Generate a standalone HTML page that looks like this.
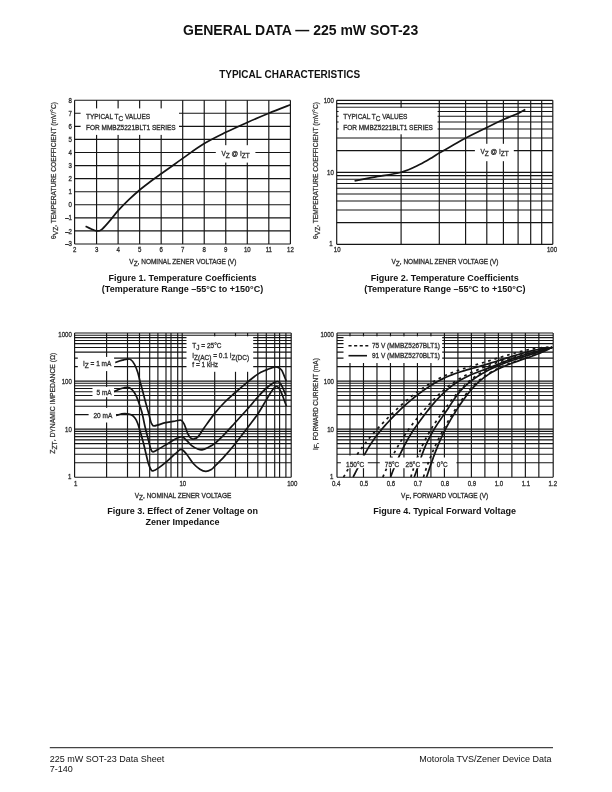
<!DOCTYPE html>
<html lang="en"><head><meta charset="utf-8"><title>GENERAL DATA — 225 mW SOT-23</title>
<style>
html,body{margin:0;padding:0;background:#fff}
body{width:612px;height:792px;overflow:hidden}
svg{display:block;font-family:"Liberation Sans",sans-serif}
svg path{fill:none;stroke:#141414}
</style></head><body>
<svg width="612" height="792" viewBox="0 0 612 792">
<text transform="translate(300.6 35)" font-size="14" text-anchor="middle" font-weight="bold" fill="#111">GENERAL DATA — 225 mW SOT-23</text>
<text transform="translate(289.6 78.2)" font-size="10" text-anchor="middle" font-weight="bold" fill="#111">TYPICAL CHARACTERISTICS</text>
<path d="M49.8 747.6H553" stroke-width="1.1" style="stroke:#444"/>
<text transform="translate(49.8 761.6)" font-size="9" fill="#111">225 mW SOT-23 Data Sheet</text>
<text transform="translate(49.8 772.4)" font-size="9" fill="#111">7-140</text>
<text transform="translate(551.6 761.6)" font-size="9" text-anchor="end" fill="#111">Motorola TVS/Zener Device Data</text>
<g>
<path d="M74.6 100.2V244" stroke-width="1.15"/>
<path d="M96.58 100.2V244" stroke-width="1.15"/>
<path d="M118.11 100.2V244" stroke-width="1.15"/>
<path d="M139.64 100.2V244" stroke-width="1.15"/>
<path d="M161.17 100.2V244" stroke-width="1.15"/>
<path d="M182.7 100.2V244" stroke-width="1.15"/>
<path d="M204.23 100.2V244" stroke-width="1.15"/>
<path d="M225.76 100.2V244" stroke-width="1.15"/>
<path d="M247.29 100.2V244" stroke-width="1.15"/>
<path d="M268.82 100.2V244" stroke-width="1.15"/>
<path d="M290.4 100.2V244" stroke-width="1.15"/>
<path d="M74.6 244H290.4" stroke-width="1.15"/>
<path d="M74.6 230.93H290.4" stroke-width="1.15"/>
<path d="M74.6 217.85H290.4" stroke-width="1.15"/>
<path d="M74.6 204.78H290.4" stroke-width="1.15"/>
<path d="M74.6 191.71H290.4" stroke-width="1.15"/>
<path d="M74.6 178.64H290.4" stroke-width="1.15"/>
<path d="M74.6 165.56H290.4" stroke-width="1.15"/>
<path d="M74.6 152.49H290.4" stroke-width="1.15"/>
<path d="M74.6 139.42H290.4" stroke-width="1.15"/>
<path d="M74.6 126.35H290.4" stroke-width="1.15"/>
<path d="M74.6 113.27H290.4" stroke-width="1.15"/>
<path d="M74.6 100.2H290.4" stroke-width="1.15"/>
<rect x="80.6" y="108.4" width="98.4" height="26.5" fill="#fff" stroke="none"/>
<rect x="215.8" y="145.2" width="39.6" height="17.4" fill="#fff" stroke="none"/>
<text transform="translate(71.9 245.7) scale(0.8 1)" font-size="7.6" text-anchor="end" fill="#303030" stroke="#303030" stroke-width="0.33">–3</text>
<text transform="translate(71.9 233.53) scale(0.8 1)" font-size="7.6" text-anchor="end" fill="#303030" stroke="#303030" stroke-width="0.33">–2</text>
<text transform="translate(71.9 220.45) scale(0.8 1)" font-size="7.6" text-anchor="end" fill="#303030" stroke="#303030" stroke-width="0.33">–1</text>
<text transform="translate(71.9 207.38) scale(0.8 1)" font-size="7.6" text-anchor="end" fill="#303030" stroke="#303030" stroke-width="0.33">0</text>
<text transform="translate(71.9 194.31) scale(0.8 1)" font-size="7.6" text-anchor="end" fill="#303030" stroke="#303030" stroke-width="0.33">1</text>
<text transform="translate(71.9 181.24) scale(0.8 1)" font-size="7.6" text-anchor="end" fill="#303030" stroke="#303030" stroke-width="0.33">2</text>
<text transform="translate(71.9 168.16) scale(0.8 1)" font-size="7.6" text-anchor="end" fill="#303030" stroke="#303030" stroke-width="0.33">3</text>
<text transform="translate(71.9 155.09) scale(0.8 1)" font-size="7.6" text-anchor="end" fill="#303030" stroke="#303030" stroke-width="0.33">4</text>
<text transform="translate(71.9 142.02) scale(0.8 1)" font-size="7.6" text-anchor="end" fill="#303030" stroke="#303030" stroke-width="0.33">5</text>
<text transform="translate(71.9 128.95) scale(0.8 1)" font-size="7.6" text-anchor="end" fill="#303030" stroke="#303030" stroke-width="0.33">6</text>
<text transform="translate(71.9 115.87) scale(0.8 1)" font-size="7.6" text-anchor="end" fill="#303030" stroke="#303030" stroke-width="0.33">7</text>
<text transform="translate(71.9 102.8) scale(0.8 1)" font-size="7.6" text-anchor="end" fill="#303030" stroke="#303030" stroke-width="0.33">8</text>
<text transform="translate(74.6 251.8) scale(0.8 1)" font-size="7.6" text-anchor="middle" fill="#303030" stroke="#303030" stroke-width="0.33">2</text>
<text transform="translate(96.58 251.8) scale(0.8 1)" font-size="7.6" text-anchor="middle" fill="#303030" stroke="#303030" stroke-width="0.33">3</text>
<text transform="translate(118.11 251.8) scale(0.8 1)" font-size="7.6" text-anchor="middle" fill="#303030" stroke="#303030" stroke-width="0.33">4</text>
<text transform="translate(139.64 251.8) scale(0.8 1)" font-size="7.6" text-anchor="middle" fill="#303030" stroke="#303030" stroke-width="0.33">5</text>
<text transform="translate(161.17 251.8) scale(0.8 1)" font-size="7.6" text-anchor="middle" fill="#303030" stroke="#303030" stroke-width="0.33">6</text>
<text transform="translate(182.7 251.8) scale(0.8 1)" font-size="7.6" text-anchor="middle" fill="#303030" stroke="#303030" stroke-width="0.33">7</text>
<text transform="translate(204.23 251.8) scale(0.8 1)" font-size="7.6" text-anchor="middle" fill="#303030" stroke="#303030" stroke-width="0.33">8</text>
<text transform="translate(225.76 251.8) scale(0.8 1)" font-size="7.6" text-anchor="middle" fill="#303030" stroke="#303030" stroke-width="0.33">9</text>
<text transform="translate(247.29 251.8) scale(0.8 1)" font-size="7.6" text-anchor="middle" fill="#303030" stroke="#303030" stroke-width="0.33">10</text>
<text transform="translate(268.82 251.8) scale(0.8 1)" font-size="7.6" text-anchor="middle" fill="#303030" stroke="#303030" stroke-width="0.33">11</text>
<text transform="translate(290.4 251.8) scale(0.8 1)" font-size="7.6" text-anchor="middle" fill="#303030" stroke="#303030" stroke-width="0.33">12</text>
<text transform="translate(86 118.9) scale(0.855 1)" font-size="7.6" fill="#303030" stroke="#303030" stroke-width="0.33">TYPICAL T<tspan dy="1.9">C</tspan><tspan dy="-1.9"> VALUES</tspan></text>
<text transform="translate(86 130) scale(0.855 1)" font-size="7.6" fill="#303030" stroke="#303030" stroke-width="0.33">FOR MMBZ5221BLT1 SERIES</text>
<text transform="translate(221.5 156.4) scale(0.855 1)" font-size="7.6" fill="#303030" stroke="#303030" stroke-width="0.33">V<tspan dy="1.9">Z</tspan><tspan dy="-1.9"> @ I</tspan><tspan dy="1.9">ZT</tspan></text>
<text transform="translate(182.8 263.7) scale(0.855 1)" font-size="7.6" text-anchor="middle" fill="#303030" stroke="#303030" stroke-width="0.33">V<tspan dy="1.9">Z</tspan><tspan dy="-1.9">, NOMINAL ZENER VOLTAGE (V)</tspan></text>
<text transform="translate(56.2 239) rotate(-90) scale(0.877 1)" font-size="7.6" fill="#303030" stroke="#303030" stroke-width="0.25">θ<tspan dy="1.9">VZ</tspan><tspan dy="-1.9">, TEMPERATURE COEFFICIENT (mV/°C)</tspan></text>
<path d="M85.6 226.22C86.53 226.68 89.37 228.18 91.2 228.97C93.03 229.75 94.86 230.82 96.58 230.93C98.3 231.04 99.38 231.25 101.53 229.62C103.68 227.99 106.73 224.28 109.5 221.12C112.26 217.96 114.88 214.24 118.11 210.66C121.34 207.09 125.29 203.13 128.88 199.68C132.46 196.24 136.09 192.99 139.64 190.01C143.19 187.02 146.6 184.48 150.19 181.77C153.78 179.07 157.62 176.35 161.17 173.8C164.72 171.25 167.92 169.05 171.5 166.48C175.09 163.91 177.25 162.19 182.7 158.37C188.15 154.56 197.05 147.94 204.23 143.6C211.41 139.27 218.58 135.89 225.76 132.36C232.94 128.83 240.11 125.6 247.29 122.42C254.47 119.24 261.63 116.21 268.82 113.27C276 110.33 286.8 106.19 290.4 104.78" stroke-width="1.7"/>
</g>
<text transform="translate(182.5 281.4)" font-size="9" text-anchor="middle" font-weight="bold" fill="#111">Figure 1. Temperature Coefficients</text>
<text transform="translate(182.5 292.3)" font-size="9" text-anchor="middle" font-weight="bold" fill="#111">(Temperature Range –55°C to +150°C)</text>
<g>
<path d="M336.7 100.3V244.3" stroke-width="1.15"/>
<path d="M401.1 100.3V244.3" stroke-width="1.15"/>
<path d="M439.3 100.3V244.3" stroke-width="1.15"/>
<path d="M465.6 100.3V244.3" stroke-width="1.15"/>
<path d="M486.8 100.3V244.3" stroke-width="1.15"/>
<path d="M503.4 100.3V244.3" stroke-width="1.15"/>
<path d="M518.1 100.3V244.3" stroke-width="1.15"/>
<path d="M530.7 100.3V244.3" stroke-width="1.15"/>
<path d="M541.7 100.3V244.3" stroke-width="1.15"/>
<path d="M552.8 100.3V244.3" stroke-width="1.15"/>
<path d="M336.7 244.3H552.8" stroke-width="1.15"/>
<path d="M336.7 222.63H552.8" stroke-width="1.15"/>
<path d="M336.7 209.95H552.8" stroke-width="1.15"/>
<path d="M336.7 200.95H552.8" stroke-width="1.15"/>
<path d="M336.7 193.97H552.8" stroke-width="1.15"/>
<path d="M336.7 188.27H552.8" stroke-width="1.15"/>
<path d="M336.7 183.45H552.8" stroke-width="1.15"/>
<path d="M336.7 179.28H552.8" stroke-width="1.15"/>
<path d="M336.7 175.59H552.8" stroke-width="1.15"/>
<path d="M336.7 172.3H552.8" stroke-width="1.15"/>
<path d="M336.7 150.63H552.8" stroke-width="1.15"/>
<path d="M336.7 137.95H552.8" stroke-width="1.15"/>
<path d="M336.7 128.95H552.8" stroke-width="1.15"/>
<path d="M336.7 121.97H552.8" stroke-width="1.15"/>
<path d="M336.7 116.27H552.8" stroke-width="1.15"/>
<path d="M336.7 111.45H552.8" stroke-width="1.15"/>
<path d="M336.7 107.28H552.8" stroke-width="1.15"/>
<path d="M336.7 103.59H552.8" stroke-width="1.15"/>
<path d="M336.7 100.3H552.8" stroke-width="1.15"/>
<rect x="338.6" y="107.9" width="99" height="26.4" fill="#fff" stroke="none"/>
<rect x="474.9" y="143.8" width="38.9" height="17.4" fill="#fff" stroke="none"/>
<text transform="translate(333.8 102.9) scale(0.8 1)" font-size="7.6" text-anchor="end" fill="#303030" stroke="#303030" stroke-width="0.33">100</text>
<text transform="translate(333.8 174.9) scale(0.8 1)" font-size="7.6" text-anchor="end" fill="#303030" stroke="#303030" stroke-width="0.33">10</text>
<text transform="translate(332.6 245.5) scale(0.8 1)" font-size="7.6" text-anchor="end" fill="#303030" stroke="#303030" stroke-width="0.33">1</text>
<text transform="translate(337.2 251.6) scale(0.8 1)" font-size="7.6" text-anchor="middle" fill="#303030" stroke="#303030" stroke-width="0.33">10</text>
<text transform="translate(552 251.7) scale(0.8 1)" font-size="7.6" text-anchor="middle" fill="#303030" stroke="#303030" stroke-width="0.33">100</text>
<text transform="translate(343.2 119.1) scale(0.855 1)" font-size="7.6" fill="#303030" stroke="#303030" stroke-width="0.33">TYPICAL T<tspan dy="1.9">C</tspan><tspan dy="-1.9"> VALUES</tspan></text>
<text transform="translate(343.2 129.8) scale(0.855 1)" font-size="7.6" fill="#303030" stroke="#303030" stroke-width="0.33">FOR MMBZ5221BLT1 SERIES</text>
<text transform="translate(480.5 154.2) scale(0.855 1)" font-size="7.6" fill="#303030" stroke="#303030" stroke-width="0.33">V<tspan dy="1.9">Z</tspan><tspan dy="-1.9"> @ I</tspan><tspan dy="1.9">ZT</tspan></text>
<text transform="translate(445 263.7) scale(0.855 1)" font-size="7.6" text-anchor="middle" fill="#303030" stroke="#303030" stroke-width="0.33">V<tspan dy="1.9">Z</tspan><tspan dy="-1.9">, NOMINAL ZENER VOLTAGE (V)</tspan></text>
<text transform="translate(318.2 239) rotate(-90) scale(0.877 1)" font-size="7.6" fill="#303030" stroke="#303030" stroke-width="0.25">θ<tspan dy="1.9">VZ</tspan><tspan dy="-1.9">, TEMPERATURE COEFFICIENT (mV/°C)</tspan></text>
<path d="M354.6 180.8C357.87 180.18 366.42 178.53 374.2 177.1C381.98 175.67 393.73 174.28 401.3 172.2C408.87 170.12 414.32 167.15 419.6 164.6C424.88 162.05 429.67 158.88 433 156.9C436.33 154.92 435.93 154.83 439.6 152.7C443.27 150.57 450.63 146.55 455 144.1C459.37 141.65 460.57 140.72 465.8 138C471.03 135.28 479.92 130.95 486.4 127.8C492.88 124.65 499.25 121.58 504.7 119.1C510.15 116.62 515.67 114.5 519.1 112.9C522.53 111.3 524.27 110.07 525.3 109.5" stroke-width="1.7"/>
</g>
<text transform="translate(444.8 281.4)" font-size="9" text-anchor="middle" font-weight="bold" fill="#111">Figure 2. Temperature Coefficients</text>
<text transform="translate(444.8 292.3)" font-size="9" text-anchor="middle" font-weight="bold" fill="#111">(Temperature Range –55°C to +150°C)</text>
<g>
<path d="M74.6 333V477.2" stroke-width="1.15"/>
<path d="M106.6 333V477.2" stroke-width="1.15"/>
<path d="M127.5 333V477.2" stroke-width="1.15"/>
<path d="M139.5 333V477.2" stroke-width="1.15"/>
<path d="M149.7 333V477.2" stroke-width="1.15"/>
<path d="M157.9 333V477.2" stroke-width="1.15"/>
<path d="M166 333V477.2" stroke-width="1.15"/>
<path d="M171 333V477.2" stroke-width="1.15"/>
<path d="M177.7 333V477.2" stroke-width="1.15"/>
<path d="M182.2 333V477.2" stroke-width="1.15"/>
<path d="M214.7 333V477.2" stroke-width="1.15"/>
<path d="M235.5 333V477.2" stroke-width="1.15"/>
<path d="M247.6 333V477.2" stroke-width="1.15"/>
<path d="M257.8 333V477.2" stroke-width="1.15"/>
<path d="M266.3 333V477.2" stroke-width="1.15"/>
<path d="M274.7 333V477.2" stroke-width="1.15"/>
<path d="M279.6 333V477.2" stroke-width="1.15"/>
<path d="M285.9 333V477.2" stroke-width="1.15"/>
<path d="M291.2 333V477.2" stroke-width="1.15"/>
<path d="M74.6 477.2H291.2" stroke-width="1.15"/>
<path d="M74.6 462.73H291.2" stroke-width="1.15"/>
<path d="M74.6 454.27H291.2" stroke-width="1.15"/>
<path d="M74.6 448.26H291.2" stroke-width="1.15"/>
<path d="M74.6 443.6H291.2" stroke-width="1.15"/>
<path d="M74.6 439.8H291.2" stroke-width="1.15"/>
<path d="M74.6 436.58H291.2" stroke-width="1.15"/>
<path d="M74.6 433.79H291.2" stroke-width="1.15"/>
<path d="M74.6 431.33H291.2" stroke-width="1.15"/>
<path d="M74.6 429.13H291.2" stroke-width="1.15"/>
<path d="M74.6 414.66H291.2" stroke-width="1.15"/>
<path d="M74.6 406.2H291.2" stroke-width="1.15"/>
<path d="M74.6 400.19H291.2" stroke-width="1.15"/>
<path d="M74.6 395.54H291.2" stroke-width="1.15"/>
<path d="M74.6 391.73H291.2" stroke-width="1.15"/>
<path d="M74.6 388.51H291.2" stroke-width="1.15"/>
<path d="M74.6 385.72H291.2" stroke-width="1.15"/>
<path d="M74.6 383.27H291.2" stroke-width="1.15"/>
<path d="M74.6 381.07H291.2" stroke-width="1.15"/>
<path d="M74.6 366.6H291.2" stroke-width="1.15"/>
<path d="M74.6 358.13H291.2" stroke-width="1.15"/>
<path d="M74.6 352.13H291.2" stroke-width="1.15"/>
<path d="M74.6 347.47H291.2" stroke-width="1.15"/>
<path d="M74.6 343.66H291.2" stroke-width="1.15"/>
<path d="M74.6 340.45H291.2" stroke-width="1.15"/>
<path d="M74.6 337.66H291.2" stroke-width="1.15"/>
<path d="M74.6 335.2H291.2" stroke-width="1.15"/>
<path d="M74.6 333H291.2" stroke-width="1.15"/>
<rect x="186.5" y="336.3" width="66.7" height="35.5" fill="#fff" stroke="none"/>
<rect x="77.8" y="356.9" width="36.3" height="14.2" fill="#fff" stroke="none"/>
<rect x="92.5" y="386.9" width="21.6" height="10.3" fill="#fff" stroke="none"/>
<rect x="88.6" y="407.8" width="27.5" height="14.7" fill="#fff" stroke="none"/>
<text transform="translate(71.8 336.6) scale(0.8 1)" font-size="7.6" text-anchor="end" fill="#303030" stroke="#303030" stroke-width="0.33">1000</text>
<text transform="translate(71.8 383.67) scale(0.8 1)" font-size="7.6" text-anchor="end" fill="#303030" stroke="#303030" stroke-width="0.33">100</text>
<text transform="translate(71.8 431.73) scale(0.8 1)" font-size="7.6" text-anchor="end" fill="#303030" stroke="#303030" stroke-width="0.33">10</text>
<text transform="translate(71.3 478.7) scale(0.8 1)" font-size="7.6" text-anchor="end" fill="#303030" stroke="#303030" stroke-width="0.33">1</text>
<text transform="translate(75.7 485.7) scale(0.8 1)" font-size="7.6" text-anchor="middle" fill="#303030" stroke="#303030" stroke-width="0.33">1</text>
<text transform="translate(182.8 485.7) scale(0.8 1)" font-size="7.6" text-anchor="middle" fill="#303030" stroke="#303030" stroke-width="0.33">10</text>
<text transform="translate(292.3 485.7) scale(0.8 1)" font-size="7.6" text-anchor="middle" fill="#303030" stroke="#303030" stroke-width="0.33">100</text>
<text transform="translate(192.3 347.6) scale(0.855 1)" font-size="7.6" fill="#303030" stroke="#303030" stroke-width="0.33">T<tspan dy="1.9">J</tspan><tspan dy="-1.9"> = 25°C</tspan></text>
<text transform="translate(192.3 357.5) scale(0.855 1)" font-size="7.6" fill="#303030" stroke="#303030" stroke-width="0.33">I<tspan dy="2.2">Z(AC)</tspan><tspan dy="-2.2"> = 0.1 I</tspan><tspan dy="2.2">Z(DC)</tspan></text>
<text transform="translate(192.3 367.4) scale(0.855 1)" font-size="7.6" fill="#303030" stroke="#303030" stroke-width="0.33">f = 1 kHz</text>
<text transform="translate(83 365.6) scale(0.855 1)" font-size="7.6" fill="#303030" stroke="#303030" stroke-width="0.33">I<tspan dy="1.9">Z</tspan><tspan dy="-1.9"> = 1 mA</tspan></text>
<text transform="translate(96.5 394.6) scale(0.855 1)" font-size="7.6" fill="#303030" stroke="#303030" stroke-width="0.33">5 mA</text>
<text transform="translate(93.5 417.8) scale(0.855 1)" font-size="7.6" fill="#303030" stroke="#303030" stroke-width="0.33">20 mA</text>
<text transform="translate(183 497.8) scale(0.855 1)" font-size="7.6" text-anchor="middle" fill="#303030" stroke="#303030" stroke-width="0.33">V<tspan dy="1.9">Z</tspan><tspan dy="-1.9">, NOMINAL ZENER VOLTAGE</tspan></text>
<text transform="translate(55.2 453.7) rotate(-90) scale(0.893 1)" font-size="7.6" fill="#303030" stroke="#303030" stroke-width="0.25">Z<tspan dy="1.9">ZT</tspan><tspan dy="-1.9">, DYNAMIC IMPEDANCE (Ω)</tspan></text>
<path d="M115.3 362.6C116 362.33 118.07 361.47 119.5 361C120.93 360.53 122.62 360.1 123.9 359.8C125.18 359.5 126.12 359.27 127.2 359.2C128.28 359.13 129.18 358.55 130.4 359.4C131.62 360.25 133.27 362.13 134.5 364.3C135.73 366.47 136.92 369.68 137.8 372.4C138.68 375.12 138.98 377.47 139.8 380.6C140.62 383.73 141.82 387.88 142.7 391.2C143.58 394.52 144.15 396.98 145.1 400.5C146.05 404.02 147.45 408.75 148.4 412.3C149.35 415.85 150.15 419.75 150.8 421.8C151.45 423.85 151.68 423.92 152.3 424.6C152.92 425.28 152.28 426.22 154.5 425.9C156.72 425.58 162.12 423.52 165.6 422.7C169.08 421.88 172.82 421.42 175.4 421C177.98 420.58 179.62 419.65 181.1 420.2C182.58 420.75 183.22 422.12 184.3 424.3C185.38 426.48 186.5 430.98 187.6 433.3C188.7 435.62 189.88 437.25 190.9 438.2C191.92 439.15 192.48 439.27 193.7 439C194.92 438.73 196.42 438.52 198.2 436.6C199.98 434.68 201.62 431.42 204.4 427.5C207.18 423.58 211.57 417.27 214.9 413.1C218.23 408.93 221.18 405.77 224.4 402.5C227.62 399.23 230.35 396.9 234.2 393.5C238.05 390.1 243.57 385.33 247.5 382.1C251.43 378.87 254.73 376.1 257.8 374.1C260.87 372.1 263.12 371.27 265.9 370.1C268.68 368.93 272.38 367.5 274.5 367.1C276.62 366.7 277.43 367.2 278.6 367.7C279.77 368.2 280.68 369.02 281.5 370.1C282.32 371.18 282.72 372.38 283.5 374.2C284.28 376.02 285.75 379.87 286.2 381" stroke-width="1.7"/>
<path d="M114.1 391.6C115.18 391.13 118.87 389.45 120.6 388.8C122.33 388.15 123.33 387.95 124.5 387.7C125.67 387.45 126.48 387.12 127.6 387.3C128.72 387.48 130.05 387.88 131.2 388.8C132.35 389.72 133.53 391.3 134.5 392.8C135.47 394.3 136.32 396.27 137 397.8C137.68 399.33 137.78 399.58 138.6 402C139.42 404.42 140.82 408.13 141.9 412.3C142.98 416.47 144.02 422.38 145.1 427C146.18 431.62 147.48 436.42 148.4 440C149.32 443.58 149.83 446.53 150.6 448.5C151.37 450.47 151.6 451.75 153 451.8C154.4 451.85 156.63 450.12 159 448.8C161.37 447.48 164.47 445.53 167.2 443.9C169.93 442.27 172.95 440.22 175.4 439C177.85 437.78 180 436.32 181.9 436.6C183.8 436.88 185.17 439.2 186.8 440.7C188.43 442.2 189.8 444.18 191.7 445.6C193.6 447.02 196.48 448.5 198.2 449.2C199.92 449.9 200.35 450.1 202 449.8C203.65 449.5 205.95 448.48 208.1 447.4C210.25 446.32 212.18 445.48 214.9 443.3C217.62 441.12 221.18 437.57 224.4 434.3C227.62 431.03 230.35 427.92 234.2 423.7C238.05 419.48 243.57 413.45 247.5 409C251.43 404.55 254.73 400.42 257.8 397C260.87 393.58 263.38 390.8 265.9 388.5C268.42 386.2 270.98 384.37 272.9 383.2C274.82 382.03 276.18 381.5 277.4 381.5C278.62 381.5 279.32 382.17 280.2 383.2C281.08 384.23 281.78 385.72 282.7 387.7C283.62 389.68 285.2 393.87 285.7 395.1" stroke-width="1.7"/>
<path d="M116.1 415.4C116.92 415.17 119.5 414.32 121 414C122.5 413.68 123.4 413.38 125.1 413.5C126.8 413.62 129.5 413.88 131.2 414.7C132.9 415.52 134.2 416.9 135.3 418.4C136.4 419.9 137.05 421.73 137.8 423.7C138.55 425.67 139.18 428.15 139.8 430.2C140.42 432.25 140.88 433.82 141.5 436C142.12 438.18 142.9 440.97 143.5 443.3C144.1 445.63 144.28 446.63 145.1 450C145.92 453.37 147.45 460.3 148.4 463.5C149.35 466.7 150.03 467.97 150.8 469.2C151.57 470.43 151.63 471.17 153 470.9C154.37 470.63 156.63 469.23 159 467.6C161.37 465.97 164.47 463.42 167.2 461.1C169.93 458.78 173.08 455.67 175.4 453.7C177.72 451.73 179.2 449.17 181.1 449.3C183 449.43 184.77 452.13 186.8 454.5C188.83 456.87 191.12 461.05 193.3 463.5C195.48 465.95 197.82 467.9 199.9 469.2C201.98 470.5 203.9 471.25 205.8 471.3C207.7 471.35 209.78 470.35 211.3 469.5C212.82 468.65 212.72 468.38 214.9 466.2C217.08 464.02 221.18 459.93 224.4 456.4C227.62 452.87 230.35 449.77 234.2 445C238.05 440.23 243.57 432.97 247.5 427.8C251.43 422.63 254.73 418.53 257.8 414C260.87 409.47 263.63 404.35 265.9 400.6C268.17 396.85 269.8 393.8 271.4 391.5C273 389.2 274.37 387.5 275.5 386.8C276.63 386.1 277.28 386.47 278.2 387.3C279.12 388.13 280.12 389.97 281 391.8C281.88 393.63 282.6 395.93 283.5 398.3C284.4 400.67 285.92 404.72 286.4 406" stroke-width="1.7"/>
</g>
<text transform="translate(182.6 514.4)" font-size="9" text-anchor="middle" font-weight="bold" fill="#111">Figure 3. Effect of Zener Voltage on</text>
<text transform="translate(182.6 525.3)" font-size="9" text-anchor="middle" font-weight="bold" fill="#111">Zener Impedance</text>
<g>
<path d="M337 333V477.2" stroke-width="1.15"/>
<path d="M553.2 333V477.2" stroke-width="1.15"/>
<path d="M349.99 333V477.2" stroke-width="1.15"/>
<path d="M363.48 333V477.2" stroke-width="1.15"/>
<path d="M376.97 333V477.2" stroke-width="1.15"/>
<path d="M390.46 333V477.2" stroke-width="1.15"/>
<path d="M403.95 333V477.2" stroke-width="1.15"/>
<path d="M417.44 333V477.2" stroke-width="1.15"/>
<path d="M430.93 333V477.2" stroke-width="1.15"/>
<path d="M444.42 333V477.2" stroke-width="1.15"/>
<path d="M457.91 333V477.2" stroke-width="1.15"/>
<path d="M471.4 333V477.2" stroke-width="1.15"/>
<path d="M484.89 333V477.2" stroke-width="1.15"/>
<path d="M498.38 333V477.2" stroke-width="1.15"/>
<path d="M511.87 333V477.2" stroke-width="1.15"/>
<path d="M525.36 333V477.2" stroke-width="1.15"/>
<path d="M538.85 333V477.2" stroke-width="1.15"/>
<path d="M337 477.2H553" stroke-width="1.15"/>
<path d="M337 462.73H553" stroke-width="1.15"/>
<path d="M337 454.27H553" stroke-width="1.15"/>
<path d="M337 448.26H553" stroke-width="1.15"/>
<path d="M337 443.6H553" stroke-width="1.15"/>
<path d="M337 439.8H553" stroke-width="1.15"/>
<path d="M337 436.58H553" stroke-width="1.15"/>
<path d="M337 433.79H553" stroke-width="1.15"/>
<path d="M337 431.33H553" stroke-width="1.15"/>
<path d="M337 429.13H553" stroke-width="1.15"/>
<path d="M337 414.66H553" stroke-width="1.15"/>
<path d="M337 406.2H553" stroke-width="1.15"/>
<path d="M337 400.19H553" stroke-width="1.15"/>
<path d="M337 395.54H553" stroke-width="1.15"/>
<path d="M337 391.73H553" stroke-width="1.15"/>
<path d="M337 388.51H553" stroke-width="1.15"/>
<path d="M337 385.72H553" stroke-width="1.15"/>
<path d="M337 383.27H553" stroke-width="1.15"/>
<path d="M337 381.07H553" stroke-width="1.15"/>
<path d="M337 366.6H553" stroke-width="1.15"/>
<path d="M337 358.13H553" stroke-width="1.15"/>
<path d="M337 352.13H553" stroke-width="1.15"/>
<path d="M337 347.47H553" stroke-width="1.15"/>
<path d="M337 343.66H553" stroke-width="1.15"/>
<path d="M337 340.45H553" stroke-width="1.15"/>
<path d="M337 337.66H553" stroke-width="1.15"/>
<path d="M337 335.2H553" stroke-width="1.15"/>
<path d="M337 333H553" stroke-width="1.15"/>
<path d="M353.11 477.02L354.59 474.25L356.04 471.44L357.47 468.61L358.89 465.76L360.3 462.9L361.73 460.05L363.18 457.21L364.66 454.38L366.18 451.59L367.75 448.84L369.39 446.14L371.08 443.49L372.84 440.89L374.66 438.34L376.53 435.82L378.45 433.35L380.42 430.91L382.43 428.51L384.49 426.13L386.58 423.79L388.71 421.46L390.87 419.16L393.07 416.87L395.29 414.61L397.54 412.37L399.82 410.15L402.12 407.96L404.46 405.8L406.83 403.68L409.23 401.59L411.65 399.53L414.11 397.52L416.59 395.54L419.11 393.61L421.65 391.73L424.23 389.89L426.83 388.1L429.46 386.37L432.12 384.69L434.82 383.08L437.54 381.52L440.3 380.04L443.11 378.63L445.95 377.31L448.83 376.07L451.75 374.9L454.7 373.8L457.68 372.76L460.69 371.78L463.71 370.84L466.75 369.94L469.8 369.06L472.86 368.2L475.92 367.35L478.98 366.5L482.04 365.64L485.09 364.76L488.13 363.86L491.16 362.93L494.18 361.99L497.2 361.04L500.21 360.08L503.22 359.12L506.23 358.16L509.24 357.21L512.25 356.27L515.27 355.35L518.29 354.45L521.32 353.57L524.35 352.73L527.4 351.93L530.46 351.17L533.53 350.45L536.62 349.78L539.72 349.17L542.85 348.62L545.99 348.14L549.16 347.73L552.35 347.39" stroke-width="1.7"/>
<path d="M390.63 476.96L391.58 474.39L392.57 471.81L393.58 469.24L394.63 466.67L395.7 464.1L396.8 461.53L397.93 458.98L399.09 456.43L400.27 453.9L401.48 451.38L402.71 448.88L403.97 446.4L405.25 443.94L406.56 441.51L407.9 439.09L409.28 436.71L410.71 434.36L412.17 432.03L413.69 429.74L415.25 427.48L416.85 425.24L418.47 423L420.11 420.76L421.76 418.52L423.43 416.28L425.11 414.05L426.82 411.83L428.55 409.62L430.3 407.44L432.09 405.28L433.9 403.15L435.74 401.05L437.62 398.99L439.53 396.96L441.48 394.98L443.47 393.05L445.5 391.17L447.58 389.35L449.7 387.59L451.87 385.89L454.09 384.26L456.35 382.69L458.66 381.2L461.02 379.78L463.42 378.42L465.87 377.14L468.35 375.93L470.88 374.8L473.44 373.73L476.03 372.73L478.65 371.76L481.27 370.8L483.88 369.84L486.48 368.86L489.07 367.85L491.64 366.81L494.21 365.77L496.77 364.73L499.34 363.69L501.9 362.66L504.48 361.65L507.06 360.67L509.66 359.7L512.26 358.76L514.88 357.86L517.51 356.98L520.16 356.13L522.81 355.3L525.47 354.5L528.14 353.73L530.82 352.97L533.5 352.23L536.18 351.51L538.87 350.8L541.56 350.1L544.25 349.4L546.94 348.7L549.62 348.01L552.3 347.31" stroke-width="1.7"/>
<path d="M414.25 477.01L415.16 474.66L416.03 472.27L416.88 469.87L417.7 467.45L418.52 465.02L419.33 462.59L420.15 460.15L420.98 457.72L421.82 455.29L422.69 452.88L423.6 450.49L424.55 448.12L425.54 445.78L426.57 443.46L427.65 441.16L428.77 438.89L429.93 436.65L431.13 434.43L432.36 432.23L433.64 430.05L434.96 427.9L436.31 425.77L437.69 423.65L439.1 421.55L440.53 419.46L441.97 417.37L443.43 415.27L444.88 413.16L446.33 411.04L447.78 408.9L449.21 406.74L450.63 404.55L452.05 402.36L453.49 400.19L454.96 398.04L456.46 395.94L458.02 393.9L459.63 391.93L461.3 390.03L463.03 388.2L464.82 386.43L466.65 384.73L468.53 383.08L470.47 381.5L472.44 379.98L474.46 378.51L476.53 377.09L478.63 375.73L480.77 374.41L482.94 373.14L485.15 371.92L487.39 370.74L489.65 369.59L491.95 368.49L494.27 367.43L496.61 366.4L498.98 365.4L501.36 364.43L503.76 363.49L506.18 362.57L508.61 361.69L511.04 360.82L513.49 359.97L515.95 359.14L518.41 358.33L520.87 357.53L523.33 356.74L525.79 355.96L528.25 355.19L530.7 354.42L533.14 353.66L535.58 352.9L538 352.13L540.41 351.37L542.8 350.6L545.18 349.82L547.53 349.04L549.87 348.24L552.18 347.43" stroke-width="1.7"/>
<path d="M426.58 477.05L427.35 474.74L428.13 472.44L428.91 470.13L429.69 467.83L430.48 465.53L431.28 463.24L432.08 460.95L432.9 458.67L433.73 456.39L434.58 454.13L435.43 451.86L436.31 449.61L437.2 447.37L438.11 445.13L439.04 442.91L440 440.69L440.97 438.49L441.98 436.3L443 434.12L444.06 431.95L445.14 429.79L446.26 427.65L447.4 425.52L448.56 423.41L449.76 421.3L450.97 419.2L452.21 417.12L453.47 415.04L454.75 412.97L456.04 410.91L457.36 408.86L458.69 406.81L460.04 404.78L461.41 402.75L462.8 400.75L464.22 398.76L465.66 396.79L467.13 394.85L468.63 392.93L470.16 391.05L471.72 389.2L473.33 387.4L474.98 385.64L476.67 383.93L478.4 382.27L480.19 380.67L482.02 379.14L483.9 377.66L485.83 376.24L487.8 374.89L489.81 373.58L491.86 372.34L493.95 371.15L496.07 370.01L498.23 368.92L500.41 367.89L502.62 366.9L504.86 365.96L507.11 365.05L509.39 364.17L511.67 363.32L513.97 362.49L516.28 361.67L518.59 360.87L520.91 360.07L523.22 359.28L525.53 358.48L527.83 357.68L530.13 356.86L532.41 356.02L534.68 355.17L536.94 354.29L539.18 353.39L541.4 352.45L543.61 351.48L545.79 350.48L547.95 349.43L550.09 348.34L552.21 347.2" stroke-width="1.7"/>
<path d="M343.5 477.16L345.12 474.32L346.75 471.48L348.4 468.66L350.08 465.84L351.78 463.05L353.5 460.27L355.25 457.51L357.03 454.78L358.85 452.07L360.7 449.4L362.59 446.75L364.53 444.15L366.5 441.58L368.53 439.05L370.59 436.56L372.69 434.09L374.83 431.66L377 429.26L379.2 426.87L381.43 424.51L383.68 422.16L385.95 419.82L388.24 417.49L390.56 415.19L392.9 412.9L395.26 410.64L397.65 408.4L400.06 406.18L402.5 404L404.97 401.85L407.46 399.74L409.98 397.66L412.53 395.63L415.12 393.64L417.73 391.69L420.37 389.8L423.05 387.96L425.76 386.17L428.51 384.44L431.29 382.77L434.11 381.16L436.95 379.61L439.84 378.13L442.75 376.7L445.69 375.34L448.66 374.04L451.66 372.81L454.68 371.63L457.74 370.53L460.81 369.47L463.91 368.47L467.02 367.49L470.14 366.55L473.26 365.61L476.4 364.68L479.53 363.75L482.66 362.8L485.78 361.84L488.9 360.86L492.02 359.88L495.14 358.9L498.26 357.92L501.38 356.96L504.5 356.01L507.62 355.07L510.75 354.17L513.88 353.29L517.02 352.45L520.17 351.65L523.32 350.9L526.49 350.19L529.66 349.54L532.85 348.96L536.05 348.44L539.26 347.99L542.49 347.62L545.74 347.33L549 347.12L552.28 347.01" stroke-width="1.7" stroke-dasharray="2.7 3.9"/>
<path d="M382.84 477.05L383.97 474.41L385.12 471.79L386.28 469.18L387.47 466.58L388.69 463.99L389.92 461.42L391.18 458.86L392.47 456.32L393.77 453.79L395.11 451.28L396.48 448.79L397.87 446.32L399.29 443.86L400.75 441.42L402.23 439.01L403.75 436.61L405.3 434.24L406.89 431.89L408.51 429.56L410.17 427.25L411.87 424.97L413.6 422.72L415.36 420.48L417.15 418.26L418.97 416.06L420.82 413.88L422.68 411.71L424.56 409.56L426.46 407.42L428.38 405.29L430.31 403.18L432.27 401.09L434.24 399.03L436.25 397L438.29 395.01L440.36 393.06L442.47 391.16L444.62 389.32L446.8 387.52L449.03 385.79L451.3 384.1L453.6 382.48L455.95 380.91L458.34 379.4L460.76 377.96L463.23 376.57L465.74 375.25L468.28 373.98L470.85 372.77L473.44 371.6L476.06 370.47L478.7 369.38L481.35 368.32L484.01 367.28L486.67 366.26L489.35 365.27L492.03 364.31L494.72 363.36L497.42 362.43L500.13 361.53L502.84 360.64L505.55 359.78L508.27 358.93L511 358.1L513.73 357.29L516.47 356.49L519.21 355.7L521.95 354.94L524.7 354.18L527.45 353.44L530.2 352.71L532.95 351.99L535.71 351.28L538.47 350.58L541.22 349.9L543.98 349.22L546.74 348.54L549.5 347.88L552.25 347.22" stroke-width="1.7" stroke-dasharray="2.7 3.9"/>
<path d="M410.87 477.05L411.62 474.57L412.39 472.09L413.18 469.61L413.99 467.15L414.82 464.69L415.68 462.24L416.56 459.8L417.46 457.38L418.39 454.97L419.35 452.57L420.35 450.19L421.37 447.82L422.42 445.47L423.51 443.14L424.63 440.83L425.79 438.53L426.99 436.26L428.22 434.01L429.5 431.78L430.81 429.58L432.16 427.39L433.55 425.22L434.96 423.07L436.4 420.93L437.86 418.81L439.33 416.68L440.82 414.57L442.33 412.46L443.84 410.35L445.37 408.26L446.91 406.17L448.47 404.09L450.05 402.03L451.64 399.98L453.25 397.94L454.89 395.93L456.54 393.94L458.23 391.98L459.95 390.05L461.7 388.16L463.5 386.32L465.34 384.53L467.23 382.8L469.17 381.13L471.16 379.52L473.19 377.96L475.27 376.47L477.38 375.04L479.54 373.66L481.74 372.35L483.97 371.1L486.24 369.9L488.54 368.76L490.87 367.67L493.22 366.63L495.6 365.64L498.01 364.68L500.43 363.77L502.87 362.89L505.33 362.04L507.81 361.22L510.29 360.42L512.79 359.64L515.29 358.88L517.79 358.14L520.3 357.4L522.81 356.67L525.32 355.95L527.83 355.22L530.33 354.5L532.82 353.76L535.3 353.01L537.76 352.25L540.22 351.47L542.65 350.68L545.07 349.85L547.46 349L549.83 348.12L552.17 347.2" stroke-width="1.7" stroke-dasharray="2.7 3.9"/>
<path d="M423.48 476.98L424.2 474.64L424.95 472.31L425.72 469.99L426.52 467.67L427.34 465.37L428.18 463.07L429.04 460.78L429.92 458.5L430.83 456.23L431.75 453.97L432.7 451.72L433.67 449.47L434.66 447.24L435.67 445.01L436.71 442.8L437.76 440.59L438.83 438.39L439.92 436.21L441.04 434.03L442.17 431.86L443.32 429.7L444.49 427.55L445.67 425.41L446.88 423.27L448.11 421.15L449.35 419.04L450.61 416.94L451.89 414.84L453.18 412.76L454.5 410.68L455.83 408.62L457.17 406.57L458.54 404.52L459.92 402.49L461.31 400.46L462.73 398.46L464.18 396.48L465.66 394.52L467.17 392.6L468.72 390.72L470.32 388.88L471.96 387.08L473.65 385.34L475.4 383.66L477.19 382.02L479.02 380.44L480.9 378.91L482.83 377.44L484.8 376.03L486.8 374.67L488.85 373.37L490.93 372.12L493.05 370.93L495.2 369.79L497.38 368.7L499.59 367.65L501.83 366.65L504.09 365.68L506.36 364.74L508.66 363.83L510.97 362.95L513.29 362.09L515.62 361.25L517.96 360.42L520.3 359.6L522.65 358.79L524.99 357.99L527.34 357.18L529.67 356.37L532 355.55L534.32 354.72L536.63 353.87L538.91 353.01L541.19 352.12L543.44 351.21L545.66 350.26L547.86 349.29L550.03 348.27L552.17 347.21" stroke-width="1.7" stroke-dasharray="2.7 3.9"/>
<rect x="343.5" y="336.3" width="98.7" height="26.7" fill="#fff" stroke="none"/>
<rect x="340.9" y="455.5" width="26.9" height="12.7" fill="#fff" stroke="none"/>
<rect x="379.8" y="457.5" width="42.5" height="10.7" fill="#fff" stroke="none"/>
<rect x="434.2" y="457.5" width="22.2" height="10.7" fill="#fff" stroke="none"/>
<text transform="translate(334 336.6) scale(0.8 1)" font-size="7.6" text-anchor="end" fill="#303030" stroke="#303030" stroke-width="0.33">1000</text>
<text transform="translate(334 383.67) scale(0.8 1)" font-size="7.6" text-anchor="end" fill="#303030" stroke="#303030" stroke-width="0.33">100</text>
<text transform="translate(334 431.73) scale(0.8 1)" font-size="7.6" text-anchor="end" fill="#303030" stroke="#303030" stroke-width="0.33">10</text>
<text transform="translate(333.3 478.7) scale(0.8 1)" font-size="7.6" text-anchor="end" fill="#303030" stroke="#303030" stroke-width="0.33">1</text>
<text transform="translate(336.1 485.7) scale(0.8 1)" font-size="7.6" text-anchor="middle" fill="#303030" stroke="#303030" stroke-width="0.33">0.4</text>
<text transform="translate(363.98 485.7) scale(0.8 1)" font-size="7.6" text-anchor="middle" fill="#303030" stroke="#303030" stroke-width="0.33">0.5</text>
<text transform="translate(390.96 485.7) scale(0.8 1)" font-size="7.6" text-anchor="middle" fill="#303030" stroke="#303030" stroke-width="0.33">0.6</text>
<text transform="translate(417.94 485.7) scale(0.8 1)" font-size="7.6" text-anchor="middle" fill="#303030" stroke="#303030" stroke-width="0.33">0.7</text>
<text transform="translate(444.92 485.7) scale(0.8 1)" font-size="7.6" text-anchor="middle" fill="#303030" stroke="#303030" stroke-width="0.33">0.8</text>
<text transform="translate(471.9 485.7) scale(0.8 1)" font-size="7.6" text-anchor="middle" fill="#303030" stroke="#303030" stroke-width="0.33">0.9</text>
<text transform="translate(498.88 485.7) scale(0.8 1)" font-size="7.6" text-anchor="middle" fill="#303030" stroke="#303030" stroke-width="0.33">1.0</text>
<text transform="translate(525.86 485.7) scale(0.8 1)" font-size="7.6" text-anchor="middle" fill="#303030" stroke="#303030" stroke-width="0.33">1.1</text>
<text transform="translate(552.84 485.7) scale(0.8 1)" font-size="7.6" text-anchor="middle" fill="#303030" stroke="#303030" stroke-width="0.33">1.2</text>
<path d="M348.5 345.8H368.3" stroke-width="1.6" stroke-dasharray="3.1 2.5"/>
<path d="M348.5 355.7H367" stroke-width="1.6"/>
<text transform="translate(371.9 348) scale(0.855 1)" font-size="7.6" fill="#303030" stroke="#303030" stroke-width="0.33">75 V (MMBZ5267BLT1)</text>
<text transform="translate(371.9 357.9) scale(0.855 1)" font-size="7.6" fill="#303030" stroke="#303030" stroke-width="0.33">91 V (MMBZ5270BLT1)</text>
<text transform="translate(346.1 466.7) scale(0.855 1)" font-size="7.6" fill="#303030" stroke="#303030" stroke-width="0.33">150°C</text>
<text transform="translate(384.8 466.7) scale(0.855 1)" font-size="7.6" fill="#303030" stroke="#303030" stroke-width="0.33">75°C</text>
<text transform="translate(405.6 466.7) scale(0.855 1)" font-size="7.6" fill="#303030" stroke="#303030" stroke-width="0.33">25°C</text>
<text transform="translate(436.8 466.7) scale(0.855 1)" font-size="7.6" fill="#303030" stroke="#303030" stroke-width="0.33">0°C</text>
<text transform="translate(444.6 498) scale(0.855 1)" font-size="7.6" text-anchor="middle" fill="#303030" stroke="#303030" stroke-width="0.33">V<tspan dy="1.9">F</tspan><tspan dy="-1.9">, FORWARD VOLTAGE (V)</tspan></text>
<text transform="translate(317.5 450) rotate(-90) scale(0.855 1)" font-size="7.6" fill="#303030" stroke="#303030" stroke-width="0.25">I<tspan dy="1.9">F</tspan><tspan dy="-1.9">, FORWARD CURRENT (mA)</tspan></text>
</g>
<text transform="translate(444.6 514.4)" font-size="9" text-anchor="middle" font-weight="bold" fill="#111">Figure 4. Typical Forward Voltage</text>
</svg>
</body></html>
